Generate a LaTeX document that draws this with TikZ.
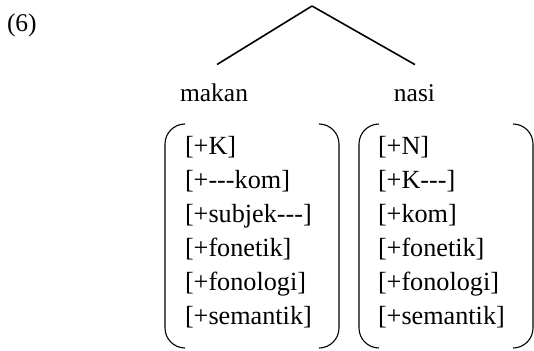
\documentclass[tikz,border=0pt]{standalone}
\usepackage{fontspec}
\setmainfont{Liberation Serif}
\begin{document}
\begin{tikzpicture}[x=1pt,y=-1pt,
  lbl/.style={inner sep=0pt,outer sep=0pt,font=\fontsize{25.5}{30}\selectfont},
  feat/.style={inner sep=0pt,outer sep=0pt,font=\fontsize{26.2}{30}\selectfont,anchor=base west},
  branch/.style={line width=1.6pt},
  paren/.style={line width=1.1pt}]
\useasboundingbox (0,0) rectangle (534,350);
\node[lbl,anchor=base west] (ex) at (7,32) {(6)};
\coordinate (top) at (312,6);
\node[lbl,anchor=base] (makan) at (214,101) {makan};
\node[lbl,anchor=base] (nasi) at (414.5,101) {nasi};
\coordinate (mk) at ([xshift=3pt,yshift=18.8pt]makan.north);
\coordinate (ns) at ([xshift=0.5pt,yshift=19.5pt]nasi.north);
\draw[branch] (top) -- (mk);
\draw[branch] (top) -- (ns);
% left bundle
\node[feat] (m1) at (185,154) {[+K]};
\node[feat] (m2) at (185,188) {[+-{}-{}-kom]};
\node[feat] (m3) at (185,222) {[+subjek-{}-{}-]};
\node[feat] (m4) at (185,256) {[+fonetik]};
\node[feat] (m5) at (185,290) {[+fonologi]};
\node[feat] (m6) at (185,324) {[+semantik]};
% right bundle
\node[feat] (n1) at (378,154) {[+N]};
\node[feat] (n2) at (378,188) {[+K-{}-{}-]};
\node[feat] (n3) at (378,222) {[+kom]};
\node[feat] (n4) at (378,256) {[+fonetik]};
\node[feat] (n5) at (378,290) {[+fonologi]};
\node[feat] (n6) at (378,324) {[+semantik]};
% parentheses of box 1 (L=165, R=339)
\draw[paren] (185,124) .. controls (174,124) and (165,133) .. (165,144) -- (165,328) .. controls (165,339) and (174,348) .. (185,348);
\draw[paren] (319,124) .. controls (330,124) and (339,133) .. (339,144) -- (339,328) .. controls (339,339) and (330,348) .. (319,348);
% parentheses of box 2 (L=359, R=533)
\draw[paren] (379,124) .. controls (368,124) and (359,133) .. (359,144) -- (359,328) .. controls (359,339) and (368,348) .. (379,348);
\draw[paren] (513,124) .. controls (524,124) and (533,133) .. (533,144) -- (533,328) .. controls (533,339) and (524,348) .. (513,348);
\end{tikzpicture}
\end{document}
